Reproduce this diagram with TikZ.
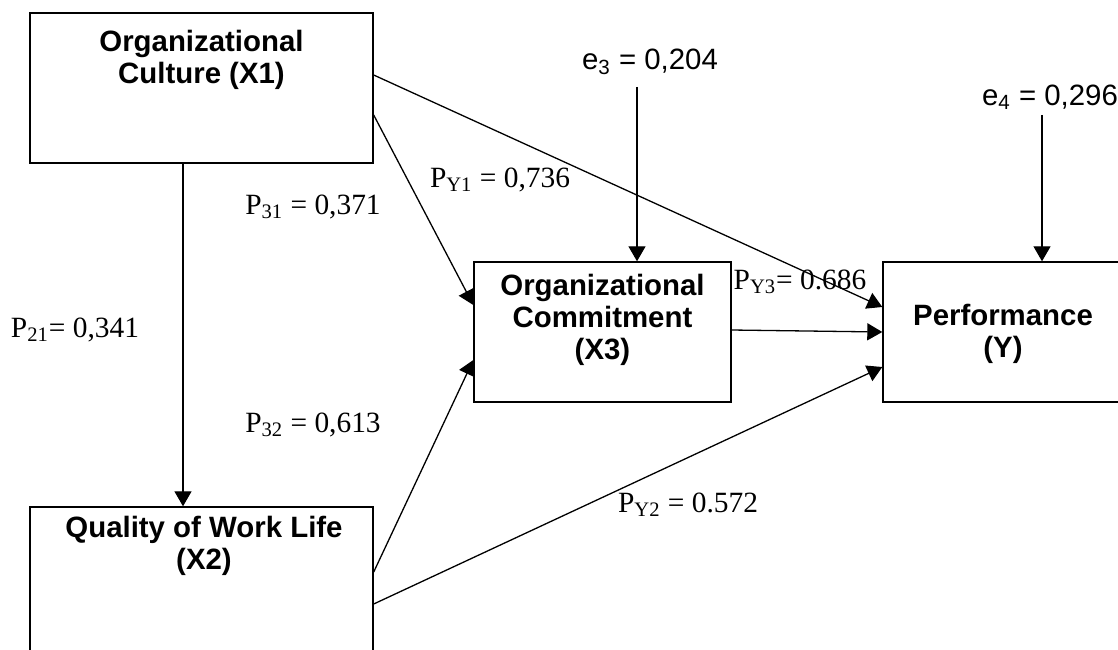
\documentclass[tikz,border=0pt]{standalone}
\usepackage{fontspec}
\setmainfont{Liberation Serif}
\setsansfont{Liberation Sans}
\usetikzlibrary{arrows.meta,positioning}

\tikzset{
  varbox/.style={draw, line width=0.7pt, inner sep=0pt},
  vartext/.style={font=\sffamily\bfseries\fontsize{14.7pt}{16pt}\selectfont, align=center, inner sep=0pt},
  coef/.style={font=\fontsize{14.7pt}{16pt}\selectfont, inner sep=0pt},
  err/.style={font=\sffamily\fontsize{14.7pt}{16pt}\selectfont, inner sep=0pt},
  link/.style={draw, line width=0.65pt, -{Triangle[length=7.5pt,width=8.5pt]}}
}

\begin{document}
\begin{tikzpicture}[x=0.5pt,y=-0.5pt]
  \clip (0,0) rectangle (1118,649);
  % variables
  \node[varbox, minimum width=171.5pt, minimum height=75pt] (x1) at (201.5,88) {};
  \node[vartext] (x1t) at (201.5,60) {Organizational\\Culture (X1)};
  \node[varbox, minimum width=171.5pt, minimum height=80pt] (x2) at (201.5,587) {};
  \node[vartext] (x2t) at (204,546) {Quality of Work Life\\(X2)};
  \node[varbox, minimum width=128.5pt, minimum height=70pt] (x3) at (602.5,332) {};
  \node[vartext] (x3t) at (602.5,320) {Organizational\\Commitment\\(X3)};
  \node[varbox, minimum width=120pt, minimum height=70pt] (perf) at (1003,332) {};
  \node[vartext] (perft) at (1003,334) {Performance\\(Y)};
  % residuals
  \node[err] (e3) at (650,62) {e\textsubscript{3} = 0,204};
  \node[err] (e4) at (1050,97) {e\textsubscript{4} = 0,296};
  \draw[link] ([xshift=17.25pt,yshift=-6pt]x3.north |- e3.south) -- ([xshift=17.25pt]x3.north);
  \draw[link] ([xshift=19.5pt,yshift=-2.5pt]perf.north |- e4.south) -- ([xshift=19.5pt]perf.north);
  % paths
  \draw[link] ([xshift=-9.25pt]x1.south) -- ([xshift=-9.25pt]x2.north);
  \draw[link] ([yshift=-13.5pt]x1.east) -- ([yshift=13.5pt]x3.west);
  \draw[link] ([yshift=6.5pt]x1.east) -- ([yshift=12.5pt]perf.west);
  \draw[link] ([yshift=7.5pt]x2.east) -- ([yshift=-14pt]x3.west);
  \draw[link] ([yshift=-8.5pt]x2.east) -- ([yshift=-17.5pt]perf.west);
  \draw[link] ([yshift=1pt]x3.east) -- (perf.west);
  % coefficients
  \node[coef] (p21) at (75,330) {P\textsubscript{21}= 0,341};
  \node[coef] (p31) at (313,207) {P\textsubscript{31} = 0,371};
  \node[coef] (p32) at (313,425) {P\textsubscript{32} = 0,613};
  \node[coef] (py1) at (500,180) {P\textsubscript{Y1} = 0,736};
  \node[coef] (py2) at (688,505) {P\textsubscript{Y2} = 0.572};
  \node[coef] (py3) at (800,282) {P\textsubscript{Y3}= 0.686};
\end{tikzpicture}
\end{document}
